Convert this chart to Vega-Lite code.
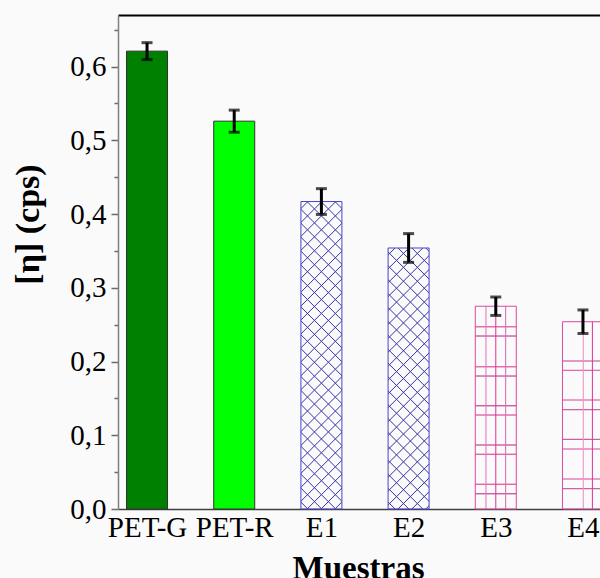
{
  "$schema": "https://vega.github.io/schema/vega-lite/v6.json",
  "width": 482,
  "height": 494,
  "autosize": {"type": "none"},
  "padding": {"left": 118, "top": 15, "right": 0, "bottom": 69},
  "background": "#fafafa",
  "config": {
    "view": {"stroke": null},
    "font": "Liberation Serif",
    "axis": {"grid": false, "labelColor": "black", "titleColor": "black"}
  },
  "data": {
    "values": [
      {"Muestra": "PET-G", "value": 0.621, "err": 0.0115},
      {"Muestra": "PET-R", "value": 0.526, "err": 0.015},
      {"Muestra": "E1", "value": 0.417, "err": 0.0175},
      {"Muestra": "E2", "value": 0.354, "err": 0.0195},
      {"Muestra": "E3", "value": 0.275, "err": 0.0125},
      {"Muestra": "E4", "value": 0.254, "err": 0.016}
    ]
  },
  "encoding": {
    "x": {"field": "Muestra", "type": "nominal", "sort": null, "scale": {"type": "point", "range": [0, 494], "padding": 0.333}, "axis": null},
    "y": {
      "field": "value", "type": "quantitative",
      "scale": {"domain": [0, 0.67], "nice": false, "zero": true},
      "axis": {
        "title": "[η] (cps)",
        "values": [0, 0.05, 0.1, 0.15, 0.2, 0.25, 0.3, 0.35, 0.4, 0.45, 0.5, 0.55, 0.6, 0.65],
        "labelExpr": "round(datum.value*20)%2==0 ? replace(format(datum.value,'.1f'),'.',',') : ''",
        "tickSize": {"condition": {"test": "round(datum.value*20)%2==0", "value": 7}, "value": 4},
        "tickColor": "#6a6a6a", "tickWidth": 1.5,
        "domainColor": "#808080", "domainWidth": 1.5,
        "labelFontSize": 29, "labelPadding": 5,
        "titleFontSize": 34, "titleFontWeight": "bold",
        "titleX": -90, "titleY": 209, "titleBaseline": "middle", "titleAlign": "center"
      }
    }
  },
  "resolve": {"axis": {"x": "independent"}},
  "layer": [
    {
      "transform": [{"filter": "datum.Muestra == 'PET-G' || datum.Muestra == 'PET-R'"}],
      "mark": {"type": "bar", "width": 41, "stroke": "#303030", "strokeWidth": 1},
      "encoding": {
        "x": {"field": "Muestra", "type": "nominal", "sort": null, "scale": {"type": "point", "range": [0, 494], "padding": 0.333},
          "axis": {"orient": "bottom", "title": "Muestras", "labelAngle": 0, "labelFontSize": 29, "ticks": false, "tickSize": 0, "labelPadding": 4,
            "domainColor": "#404040", "domainWidth": 1.5, "titleFontSize": 33, "titleFontWeight": "bold", "titleX": 240, "titleY": 43, "titleBaseline": "top", "titleAlign": "center"}},
        "color": {"field": "Muestra", "type": "nominal", "scale": {"domain": ["PET-G", "PET-R"], "range": ["#008000", "#00ff00"]}, "legend": null}
      }
    },
    {
      "transform": [{"filter": "datum.Muestra == 'E1'"}],
      "mark": {"type": "bar", "width": 41, "strokeWidth": 0,
        "fill": {"gradient": "linear", "x1": 0, "y1": 0, "x2": 0.14847, "y2": 1.11355, "stops": [
          {"offset": 0.017, "color": "rgba(60,60,168,0)"}, {"offset": 0.02, "color": "#3c3ca8"}, {"offset": 0.023, "color": "rgba(60,60,168,0)"},
          {"offset": 0.057, "color": "rgba(60,60,168,0)"}, {"offset": 0.06, "color": "#3c3ca8"}, {"offset": 0.063, "color": "rgba(60,60,168,0)"},
          {"offset": 0.097, "color": "rgba(60,60,168,0)"}, {"offset": 0.1, "color": "#3c3ca8"}, {"offset": 0.103, "color": "rgba(60,60,168,0)"},
          {"offset": 0.137, "color": "rgba(60,60,168,0)"}, {"offset": 0.14, "color": "#3c3ca8"}, {"offset": 0.143, "color": "rgba(60,60,168,0)"},
          {"offset": 0.177, "color": "rgba(60,60,168,0)"}, {"offset": 0.18, "color": "#3c3ca8"}, {"offset": 0.183, "color": "rgba(60,60,168,0)"},
          {"offset": 0.217, "color": "rgba(60,60,168,0)"}, {"offset": 0.22, "color": "#3c3ca8"}, {"offset": 0.223, "color": "rgba(60,60,168,0)"},
          {"offset": 0.257, "color": "rgba(60,60,168,0)"}, {"offset": 0.26, "color": "#3c3ca8"}, {"offset": 0.263, "color": "rgba(60,60,168,0)"},
          {"offset": 0.297, "color": "rgba(60,60,168,0)"}, {"offset": 0.3, "color": "#3c3ca8"}, {"offset": 0.303, "color": "rgba(60,60,168,0)"},
          {"offset": 0.337, "color": "rgba(60,60,168,0)"}, {"offset": 0.34, "color": "#3c3ca8"}, {"offset": 0.343, "color": "rgba(60,60,168,0)"},
          {"offset": 0.377, "color": "rgba(60,60,168,0)"}, {"offset": 0.38, "color": "#3c3ca8"}, {"offset": 0.383, "color": "rgba(60,60,168,0)"},
          {"offset": 0.417, "color": "rgba(60,60,168,0)"}, {"offset": 0.42, "color": "#3c3ca8"}, {"offset": 0.423, "color": "rgba(60,60,168,0)"},
          {"offset": 0.457, "color": "rgba(60,60,168,0)"}, {"offset": 0.46, "color": "#3c3ca8"}, {"offset": 0.463, "color": "rgba(60,60,168,0)"},
          {"offset": 0.497, "color": "rgba(60,60,168,0)"}, {"offset": 0.5, "color": "#3c3ca8"}, {"offset": 0.503, "color": "rgba(60,60,168,0)"},
          {"offset": 0.537, "color": "rgba(60,60,168,0)"}, {"offset": 0.54, "color": "#3c3ca8"}, {"offset": 0.543, "color": "rgba(60,60,168,0)"},
          {"offset": 0.577, "color": "rgba(60,60,168,0)"}, {"offset": 0.58, "color": "#3c3ca8"}, {"offset": 0.583, "color": "rgba(60,60,168,0)"},
          {"offset": 0.617, "color": "rgba(60,60,168,0)"}, {"offset": 0.62, "color": "#3c3ca8"}, {"offset": 0.623, "color": "rgba(60,60,168,0)"},
          {"offset": 0.657, "color": "rgba(60,60,168,0)"}, {"offset": 0.66, "color": "#3c3ca8"}, {"offset": 0.663, "color": "rgba(60,60,168,0)"},
          {"offset": 0.697, "color": "rgba(60,60,168,0)"}, {"offset": 0.7, "color": "#3c3ca8"}, {"offset": 0.703, "color": "rgba(60,60,168,0)"},
          {"offset": 0.737, "color": "rgba(60,60,168,0)"}, {"offset": 0.74, "color": "#3c3ca8"}, {"offset": 0.743, "color": "rgba(60,60,168,0)"},
          {"offset": 0.777, "color": "rgba(60,60,168,0)"}, {"offset": 0.78, "color": "#3c3ca8"}, {"offset": 0.783, "color": "rgba(60,60,168,0)"},
          {"offset": 0.817, "color": "rgba(60,60,168,0)"}, {"offset": 0.82, "color": "#3c3ca8"}, {"offset": 0.823, "color": "rgba(60,60,168,0)"},
          {"offset": 0.857, "color": "rgba(60,60,168,0)"}, {"offset": 0.86, "color": "#3c3ca8"}, {"offset": 0.863, "color": "rgba(60,60,168,0)"},
          {"offset": 0.897, "color": "rgba(60,60,168,0)"}, {"offset": 0.9, "color": "#3c3ca8"}, {"offset": 0.903, "color": "rgba(60,60,168,0)"},
          {"offset": 0.937, "color": "rgba(60,60,168,0)"}, {"offset": 0.94, "color": "#3c3ca8"}, {"offset": 0.943, "color": "rgba(60,60,168,0)"},
          {"offset": 0.977, "color": "rgba(60,60,168,0)"}, {"offset": 0.98, "color": "#3c3ca8"}, {"offset": 0.983, "color": "rgba(60,60,168,0)"}
        ]}},
      "encoding": {
        "x": {"field": "Muestra", "type": "nominal", "sort": null, "scale": {"type": "point", "range": [0, 494], "padding": 0.333},
          "axis": {"orient": "top", "labels": false, "ticks": false, "title": null, "domainColor": "black", "domainWidth": 2}}
      }
    },
    {
      "transform": [{"filter": "datum.Muestra == 'E1'"}],
      "mark": {"type": "bar", "width": 41, "stroke": "#4646c8", "strokeWidth": 1,
        "fill": {"gradient": "linear", "x1": 0, "y1": 1, "x2": 0.14847, "y2": -0.11355, "stops": [
          {"offset": 0.017, "color": "rgba(60,60,168,0)"}, {"offset": 0.02, "color": "#3c3ca8"}, {"offset": 0.023, "color": "rgba(60,60,168,0)"},
          {"offset": 0.057, "color": "rgba(60,60,168,0)"}, {"offset": 0.06, "color": "#3c3ca8"}, {"offset": 0.063, "color": "rgba(60,60,168,0)"},
          {"offset": 0.097, "color": "rgba(60,60,168,0)"}, {"offset": 0.1, "color": "#3c3ca8"}, {"offset": 0.103, "color": "rgba(60,60,168,0)"},
          {"offset": 0.137, "color": "rgba(60,60,168,0)"}, {"offset": 0.14, "color": "#3c3ca8"}, {"offset": 0.143, "color": "rgba(60,60,168,0)"},
          {"offset": 0.177, "color": "rgba(60,60,168,0)"}, {"offset": 0.18, "color": "#3c3ca8"}, {"offset": 0.183, "color": "rgba(60,60,168,0)"},
          {"offset": 0.217, "color": "rgba(60,60,168,0)"}, {"offset": 0.22, "color": "#3c3ca8"}, {"offset": 0.223, "color": "rgba(60,60,168,0)"},
          {"offset": 0.257, "color": "rgba(60,60,168,0)"}, {"offset": 0.26, "color": "#3c3ca8"}, {"offset": 0.263, "color": "rgba(60,60,168,0)"},
          {"offset": 0.297, "color": "rgba(60,60,168,0)"}, {"offset": 0.3, "color": "#3c3ca8"}, {"offset": 0.303, "color": "rgba(60,60,168,0)"},
          {"offset": 0.337, "color": "rgba(60,60,168,0)"}, {"offset": 0.34, "color": "#3c3ca8"}, {"offset": 0.343, "color": "rgba(60,60,168,0)"},
          {"offset": 0.377, "color": "rgba(60,60,168,0)"}, {"offset": 0.38, "color": "#3c3ca8"}, {"offset": 0.383, "color": "rgba(60,60,168,0)"},
          {"offset": 0.417, "color": "rgba(60,60,168,0)"}, {"offset": 0.42, "color": "#3c3ca8"}, {"offset": 0.423, "color": "rgba(60,60,168,0)"},
          {"offset": 0.457, "color": "rgba(60,60,168,0)"}, {"offset": 0.46, "color": "#3c3ca8"}, {"offset": 0.463, "color": "rgba(60,60,168,0)"},
          {"offset": 0.497, "color": "rgba(60,60,168,0)"}, {"offset": 0.5, "color": "#3c3ca8"}, {"offset": 0.503, "color": "rgba(60,60,168,0)"},
          {"offset": 0.537, "color": "rgba(60,60,168,0)"}, {"offset": 0.54, "color": "#3c3ca8"}, {"offset": 0.543, "color": "rgba(60,60,168,0)"},
          {"offset": 0.577, "color": "rgba(60,60,168,0)"}, {"offset": 0.58, "color": "#3c3ca8"}, {"offset": 0.583, "color": "rgba(60,60,168,0)"},
          {"offset": 0.617, "color": "rgba(60,60,168,0)"}, {"offset": 0.62, "color": "#3c3ca8"}, {"offset": 0.623, "color": "rgba(60,60,168,0)"},
          {"offset": 0.657, "color": "rgba(60,60,168,0)"}, {"offset": 0.66, "color": "#3c3ca8"}, {"offset": 0.663, "color": "rgba(60,60,168,0)"},
          {"offset": 0.697, "color": "rgba(60,60,168,0)"}, {"offset": 0.7, "color": "#3c3ca8"}, {"offset": 0.703, "color": "rgba(60,60,168,0)"},
          {"offset": 0.737, "color": "rgba(60,60,168,0)"}, {"offset": 0.74, "color": "#3c3ca8"}, {"offset": 0.743, "color": "rgba(60,60,168,0)"},
          {"offset": 0.777, "color": "rgba(60,60,168,0)"}, {"offset": 0.78, "color": "#3c3ca8"}, {"offset": 0.783, "color": "rgba(60,60,168,0)"},
          {"offset": 0.817, "color": "rgba(60,60,168,0)"}, {"offset": 0.82, "color": "#3c3ca8"}, {"offset": 0.823, "color": "rgba(60,60,168,0)"},
          {"offset": 0.857, "color": "rgba(60,60,168,0)"}, {"offset": 0.86, "color": "#3c3ca8"}, {"offset": 0.863, "color": "rgba(60,60,168,0)"},
          {"offset": 0.897, "color": "rgba(60,60,168,0)"}, {"offset": 0.9, "color": "#3c3ca8"}, {"offset": 0.903, "color": "rgba(60,60,168,0)"},
          {"offset": 0.937, "color": "rgba(60,60,168,0)"}, {"offset": 0.94, "color": "#3c3ca8"}, {"offset": 0.943, "color": "rgba(60,60,168,0)"},
          {"offset": 0.977, "color": "rgba(60,60,168,0)"}, {"offset": 0.98, "color": "#3c3ca8"}, {"offset": 0.983, "color": "rgba(60,60,168,0)"}
        ]}}
    },
    {
      "transform": [{"filter": "datum.Muestra == 'E2'"}],
      "mark": {"type": "bar", "width": 41, "strokeWidth": 0,
        "fill": {"gradient": "linear", "x1": 0, "y1": 0, "x2": 0.17739, "y2": 1.12922, "stops": [
          {"offset": 0.0195, "color": "rgba(60,60,168,0)"}, {"offset": 0.023, "color": "#3c3ca8"}, {"offset": 0.0265, "color": "rgba(60,60,168,0)"},
          {"offset": 0.0655, "color": "rgba(60,60,168,0)"}, {"offset": 0.069, "color": "#3c3ca8"}, {"offset": 0.0725, "color": "rgba(60,60,168,0)"},
          {"offset": 0.1115, "color": "rgba(60,60,168,0)"}, {"offset": 0.115, "color": "#3c3ca8"}, {"offset": 0.1185, "color": "rgba(60,60,168,0)"},
          {"offset": 0.1575, "color": "rgba(60,60,168,0)"}, {"offset": 0.161, "color": "#3c3ca8"}, {"offset": 0.1645, "color": "rgba(60,60,168,0)"},
          {"offset": 0.2035, "color": "rgba(60,60,168,0)"}, {"offset": 0.207, "color": "#3c3ca8"}, {"offset": 0.2105, "color": "rgba(60,60,168,0)"},
          {"offset": 0.2495, "color": "rgba(60,60,168,0)"}, {"offset": 0.253, "color": "#3c3ca8"}, {"offset": 0.2565, "color": "rgba(60,60,168,0)"},
          {"offset": 0.2955, "color": "rgba(60,60,168,0)"}, {"offset": 0.299, "color": "#3c3ca8"}, {"offset": 0.3025, "color": "rgba(60,60,168,0)"},
          {"offset": 0.3415, "color": "rgba(60,60,168,0)"}, {"offset": 0.345, "color": "#3c3ca8"}, {"offset": 0.3485, "color": "rgba(60,60,168,0)"},
          {"offset": 0.3875, "color": "rgba(60,60,168,0)"}, {"offset": 0.391, "color": "#3c3ca8"}, {"offset": 0.3945, "color": "rgba(60,60,168,0)"},
          {"offset": 0.4335, "color": "rgba(60,60,168,0)"}, {"offset": 0.437, "color": "#3c3ca8"}, {"offset": 0.4405, "color": "rgba(60,60,168,0)"},
          {"offset": 0.4795, "color": "rgba(60,60,168,0)"}, {"offset": 0.483, "color": "#3c3ca8"}, {"offset": 0.4865, "color": "rgba(60,60,168,0)"},
          {"offset": 0.5255, "color": "rgba(60,60,168,0)"}, {"offset": 0.529, "color": "#3c3ca8"}, {"offset": 0.5325, "color": "rgba(60,60,168,0)"},
          {"offset": 0.5715, "color": "rgba(60,60,168,0)"}, {"offset": 0.575, "color": "#3c3ca8"}, {"offset": 0.5785, "color": "rgba(60,60,168,0)"},
          {"offset": 0.6175, "color": "rgba(60,60,168,0)"}, {"offset": 0.621, "color": "#3c3ca8"}, {"offset": 0.6245, "color": "rgba(60,60,168,0)"},
          {"offset": 0.6635, "color": "rgba(60,60,168,0)"}, {"offset": 0.667, "color": "#3c3ca8"}, {"offset": 0.6705, "color": "rgba(60,60,168,0)"},
          {"offset": 0.7095, "color": "rgba(60,60,168,0)"}, {"offset": 0.713, "color": "#3c3ca8"}, {"offset": 0.7165, "color": "rgba(60,60,168,0)"},
          {"offset": 0.7555, "color": "rgba(60,60,168,0)"}, {"offset": 0.759, "color": "#3c3ca8"}, {"offset": 0.7625, "color": "rgba(60,60,168,0)"},
          {"offset": 0.8015, "color": "rgba(60,60,168,0)"}, {"offset": 0.805, "color": "#3c3ca8"}, {"offset": 0.8085, "color": "rgba(60,60,168,0)"},
          {"offset": 0.8475, "color": "rgba(60,60,168,0)"}, {"offset": 0.851, "color": "#3c3ca8"}, {"offset": 0.8545, "color": "rgba(60,60,168,0)"},
          {"offset": 0.8935, "color": "rgba(60,60,168,0)"}, {"offset": 0.897, "color": "#3c3ca8"}, {"offset": 0.9005, "color": "rgba(60,60,168,0)"},
          {"offset": 0.9395, "color": "rgba(60,60,168,0)"}, {"offset": 0.943, "color": "#3c3ca8"}, {"offset": 0.9465, "color": "rgba(60,60,168,0)"},
          {"offset": 0.9855, "color": "rgba(60,60,168,0)"}, {"offset": 0.989, "color": "#3c3ca8"}, {"offset": 0.9925, "color": "rgba(60,60,168,0)"}
        ]}}
    },
    {
      "transform": [{"filter": "datum.Muestra == 'E2'"}],
      "mark": {"type": "bar", "width": 41, "stroke": "#4646c8", "strokeWidth": 1,
        "fill": {"gradient": "linear", "x1": 0, "y1": 1, "x2": 0.17739, "y2": -0.12922, "stops": [
          {"offset": 0.0195, "color": "rgba(60,60,168,0)"}, {"offset": 0.023, "color": "#3c3ca8"}, {"offset": 0.0265, "color": "rgba(60,60,168,0)"},
          {"offset": 0.0655, "color": "rgba(60,60,168,0)"}, {"offset": 0.069, "color": "#3c3ca8"}, {"offset": 0.0725, "color": "rgba(60,60,168,0)"},
          {"offset": 0.1115, "color": "rgba(60,60,168,0)"}, {"offset": 0.115, "color": "#3c3ca8"}, {"offset": 0.1185, "color": "rgba(60,60,168,0)"},
          {"offset": 0.1575, "color": "rgba(60,60,168,0)"}, {"offset": 0.161, "color": "#3c3ca8"}, {"offset": 0.1645, "color": "rgba(60,60,168,0)"},
          {"offset": 0.2035, "color": "rgba(60,60,168,0)"}, {"offset": 0.207, "color": "#3c3ca8"}, {"offset": 0.2105, "color": "rgba(60,60,168,0)"},
          {"offset": 0.2495, "color": "rgba(60,60,168,0)"}, {"offset": 0.253, "color": "#3c3ca8"}, {"offset": 0.2565, "color": "rgba(60,60,168,0)"},
          {"offset": 0.2955, "color": "rgba(60,60,168,0)"}, {"offset": 0.299, "color": "#3c3ca8"}, {"offset": 0.3025, "color": "rgba(60,60,168,0)"},
          {"offset": 0.3415, "color": "rgba(60,60,168,0)"}, {"offset": 0.345, "color": "#3c3ca8"}, {"offset": 0.3485, "color": "rgba(60,60,168,0)"},
          {"offset": 0.3875, "color": "rgba(60,60,168,0)"}, {"offset": 0.391, "color": "#3c3ca8"}, {"offset": 0.3945, "color": "rgba(60,60,168,0)"},
          {"offset": 0.4335, "color": "rgba(60,60,168,0)"}, {"offset": 0.437, "color": "#3c3ca8"}, {"offset": 0.4405, "color": "rgba(60,60,168,0)"},
          {"offset": 0.4795, "color": "rgba(60,60,168,0)"}, {"offset": 0.483, "color": "#3c3ca8"}, {"offset": 0.4865, "color": "rgba(60,60,168,0)"},
          {"offset": 0.5255, "color": "rgba(60,60,168,0)"}, {"offset": 0.529, "color": "#3c3ca8"}, {"offset": 0.5325, "color": "rgba(60,60,168,0)"},
          {"offset": 0.5715, "color": "rgba(60,60,168,0)"}, {"offset": 0.575, "color": "#3c3ca8"}, {"offset": 0.5785, "color": "rgba(60,60,168,0)"},
          {"offset": 0.6175, "color": "rgba(60,60,168,0)"}, {"offset": 0.621, "color": "#3c3ca8"}, {"offset": 0.6245, "color": "rgba(60,60,168,0)"},
          {"offset": 0.6635, "color": "rgba(60,60,168,0)"}, {"offset": 0.667, "color": "#3c3ca8"}, {"offset": 0.6705, "color": "rgba(60,60,168,0)"},
          {"offset": 0.7095, "color": "rgba(60,60,168,0)"}, {"offset": 0.713, "color": "#3c3ca8"}, {"offset": 0.7165, "color": "rgba(60,60,168,0)"},
          {"offset": 0.7555, "color": "rgba(60,60,168,0)"}, {"offset": 0.759, "color": "#3c3ca8"}, {"offset": 0.7625, "color": "rgba(60,60,168,0)"},
          {"offset": 0.8015, "color": "rgba(60,60,168,0)"}, {"offset": 0.805, "color": "#3c3ca8"}, {"offset": 0.8085, "color": "rgba(60,60,168,0)"},
          {"offset": 0.8475, "color": "rgba(60,60,168,0)"}, {"offset": 0.851, "color": "#3c3ca8"}, {"offset": 0.8545, "color": "rgba(60,60,168,0)"},
          {"offset": 0.8935, "color": "rgba(60,60,168,0)"}, {"offset": 0.897, "color": "#3c3ca8"}, {"offset": 0.9005, "color": "rgba(60,60,168,0)"},
          {"offset": 0.9395, "color": "rgba(60,60,168,0)"}, {"offset": 0.943, "color": "#3c3ca8"}, {"offset": 0.9465, "color": "rgba(60,60,168,0)"},
          {"offset": 0.9855, "color": "rgba(60,60,168,0)"}, {"offset": 0.989, "color": "#3c3ca8"}, {"offset": 0.9925, "color": "rgba(60,60,168,0)"}
        ]}}
    },
    {
      "transform": [{"filter": "datum.Muestra == 'E3'"}],
      "mark": {"type": "bar", "width": 41, "strokeWidth": 0,
        "fill": {"gradient": "linear", "x1": 0, "y1": 0, "x2": 0, "y2": 1, "stops": [
          {"offset": 0.0951, "color": "rgba(214,60,150,0)"}, {"offset": 0.1011, "color": "#e0509f"}, {"offset": 0.1071, "color": "rgba(214,60,150,0)"},
          {"offset": 0.1409, "color": "rgba(214,60,150,0)"}, {"offset": 0.1469, "color": "#b8408f"}, {"offset": 0.1529, "color": "rgba(214,60,150,0)"},
          {"offset": 0.2923, "color": "rgba(214,60,150,0)"}, {"offset": 0.2983, "color": "#e0509f"}, {"offset": 0.3043, "color": "rgba(214,60,150,0)"},
          {"offset": 0.3382, "color": "rgba(214,60,150,0)"}, {"offset": 0.3442, "color": "#b8408f"}, {"offset": 0.3502, "color": "rgba(214,60,150,0)"},
          {"offset": 0.4846, "color": "rgba(214,60,150,0)"}, {"offset": 0.4906, "color": "#b8408f"}, {"offset": 0.4966, "color": "rgba(214,60,150,0)"},
          {"offset": 0.5305, "color": "rgba(214,60,150,0)"}, {"offset": 0.5365, "color": "#e0509f"}, {"offset": 0.5425, "color": "rgba(214,60,150,0)"},
          {"offset": 0.6784, "color": "rgba(214,60,150,0)"}, {"offset": 0.6844, "color": "#b8408f"}, {"offset": 0.6904, "color": "rgba(214,60,150,0)"},
          {"offset": 0.7243, "color": "rgba(214,60,150,0)"}, {"offset": 0.7303, "color": "#e0509f"}, {"offset": 0.7363, "color": "rgba(214,60,150,0)"},
          {"offset": 0.8722, "color": "rgba(214,60,150,0)"}, {"offset": 0.8782, "color": "#e0509f"}, {"offset": 0.8842, "color": "rgba(214,60,150,0)"},
          {"offset": 0.9186, "color": "rgba(214,60,150,0)"}, {"offset": 0.9246, "color": "#b8408f"}, {"offset": 0.9306, "color": "rgba(214,60,150,0)"}
        ]}}
    },
    {
      "transform": [{"filter": "datum.Muestra == 'E3'"}],
      "mark": {"type": "bar", "width": 41, "stroke": "#d84a9c", "strokeWidth": 1,
        "fill": {"gradient": "linear", "x1": 0, "y1": 0, "x2": 1, "y2": 0, "stops": [
          {"offset": 0.235, "color": "rgba(214,60,150,0)"}, {"offset": 0.26, "color": "#f0a8d0"}, {"offset": 0.285, "color": "rgba(214,60,150,0)"},
          {"offset": 0.475, "color": "rgba(214,60,150,0)"}, {"offset": 0.5, "color": "#e0309a"}, {"offset": 0.525, "color": "rgba(214,60,150,0)"},
          {"offset": 0.715, "color": "rgba(214,60,150,0)"}, {"offset": 0.74, "color": "#e070b8"}, {"offset": 0.765, "color": "rgba(214,60,150,0)"}
        ]}}
    },
    {
      "transform": [{"filter": "datum.Muestra == 'E4'"}],
      "mark": {"type": "bar", "width": 41, "strokeWidth": 0,
        "fill": {"gradient": "linear", "x1": 0, "y1": 0, "x2": 0, "y2": 1, "stops": [
          {"offset": 0.2043, "color": "rgba(214,60,150,0)"}, {"offset": 0.2098, "color": "#b8408f"}, {"offset": 0.2153, "color": "rgba(214,60,150,0)"},
          {"offset": 0.254, "color": "rgba(214,60,150,0)"}, {"offset": 0.2595, "color": "#e0509f"}, {"offset": 0.265, "color": "rgba(214,60,150,0)"},
          {"offset": 0.4125, "color": "rgba(214,60,150,0)"}, {"offset": 0.418, "color": "#e0509f"}, {"offset": 0.4235, "color": "rgba(214,60,150,0)"},
          {"offset": 0.4643, "color": "rgba(214,60,150,0)"}, {"offset": 0.4698, "color": "#b8408f"}, {"offset": 0.4753, "color": "rgba(214,60,150,0)"},
          {"offset": 0.6224, "color": "rgba(214,60,150,0)"}, {"offset": 0.6279, "color": "#b8408f"}, {"offset": 0.6334, "color": "rgba(214,60,150,0)"},
          {"offset": 0.6742, "color": "rgba(214,60,150,0)"}, {"offset": 0.6797, "color": "#e0509f"}, {"offset": 0.6852, "color": "rgba(214,60,150,0)"},
          {"offset": 0.8343, "color": "rgba(214,60,150,0)"}, {"offset": 0.8398, "color": "#e0509f"}, {"offset": 0.8453, "color": "rgba(214,60,150,0)"},
          {"offset": 0.8861, "color": "rgba(214,60,150,0)"}, {"offset": 0.8916, "color": "#b8408f"}, {"offset": 0.8971, "color": "rgba(214,60,150,0)"}
        ]}}
    },
    {
      "transform": [{"filter": "datum.Muestra == 'E4'"}],
      "mark": {"type": "bar", "width": 41, "stroke": "#d84a9c", "strokeWidth": 1,
        "fill": {"gradient": "linear", "x1": 0, "y1": 0, "x2": 1, "y2": 0, "stops": [
          {"offset": 0.485, "color": "rgba(214,60,150,0)"}, {"offset": 0.51, "color": "#f0a8d0"}, {"offset": 0.535, "color": "rgba(214,60,150,0)"},
          {"offset": 0.705, "color": "rgba(214,60,150,0)"}, {"offset": 0.73, "color": "#e0309a"}, {"offset": 0.755, "color": "rgba(214,60,150,0)"}
        ]}}
    },
    {
      "mark": {"type": "errorbar", "ticks": {"size": 11}, "thickness": 3, "color": "black"},
      "encoding": {
        "yError": {"field": "err"}
      }
    }
  ]
}
